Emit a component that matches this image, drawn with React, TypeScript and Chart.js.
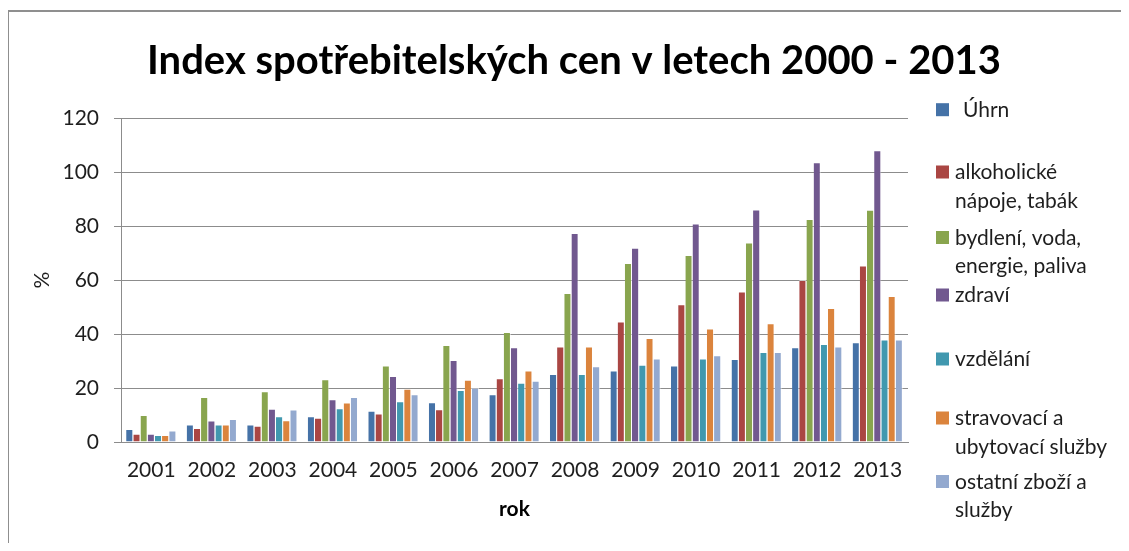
import { useEffect, useRef } from "react";
import { Chart, registerables } from "chart.js";

Chart.register(...registerables);

const years = ["2001", "2002", "2003", "2004", "2005", "2006", "2007", "2008", "2009", "2010", "2011", "2012", "2013"];

const seriesNames = [
  "Úhrn",
  "alkoholické\nnápoje, tabák",
  "bydlení, voda,\nenergie, paliva",
  "zdraví",
  "vzdělání",
  "stravovací a\nubytovací služby",
  "ostatní zboží a\nslužby",
];

const seriesColors = ["#4572A7", "#AA4643", "#89A54E", "#71588F", "#4198AF", "#DB843D", "#93A9CF"];

const uhrn = [4.8, 6.5, 6.5, 9.5, 11.6, 14.7, 17.7, 25.2, 26.5, 28.3, 30.7, 35.1, 36.9];
const alkohol = [3.1, 5.2, 6.0, 9.0, 10.6, 12.1, 23.6, 35.4, 44.6, 51.0, 55.7, 60.0, 65.4];
const bydleni = [10.0, 16.7, 18.8, 23.2, 28.3, 35.9, 40.7, 55.2, 66.3, 69.3, 73.9, 82.6, 86.0];
const zdravi = [3.1, 8.0, 12.3, 15.8, 24.4, 30.4, 35.1, 77.4, 71.9, 80.9, 86.1, 103.6, 108.1];
const vzdelani = [2.6, 6.5, 9.5, 12.5, 15.1, 19.3, 21.9, 25.2, 28.6, 30.9, 33.3, 36.3, 38.0];
const stravovani = [2.6, 6.5, 8.1, 14.6, 19.7, 23.1, 26.5, 35.4, 38.5, 42.0, 44.0, 49.6, 54.1];
const ostatni = [4.3, 8.5, 12.0, 16.7, 17.7, 20.1, 22.7, 28.1, 30.9, 32.1, 33.3, 35.4, 38.0];

const seriesValues = [uhrn, alkohol, bydleni, zdravi, vzdelani, stravovani, ostatni];

const yMin = 0;
const yMax = 120;
const yStep = 20;

const titleText = "Index spotřebitelských cen v letech 2000 - 2013";
const xTitle = "rok";
const yTitle = "%";

const FONT = "Lato, 'Open Sans', sans-serif";
const TEXT = "#1e1e1e";
const GRID = "#8c8c8c";

const sideLegendAndTitle = {
  id: "sideLegendAndTitle",
  afterDraw(chart: any) {
    const ctx = chart.ctx;
    ctx.save();
    // title, centred over the whole chart box
    ctx.font = `bold 40px ${FONT}`;
    ctx.textAlign = "center";
    ctx.textBaseline = "alphabetic";
    ctx.fillStyle = "#000";
    ctx.fillText(titleText, 565, 62);

    // legend on the right
    const baselines = [[104.7], [167, 195.7], [232.5, 261], [290], [354], [413, 441.7], [476.5, 505]];
    ctx.font = `21px ${FONT}`;
    ctx.textAlign = "left";
    chart.data.datasets.forEach((ds: any, i: number) => {
      const lines = String(ds.label).split("\n");
      const ys = baselines[i];
      ctx.fillStyle = ds.backgroundColor;
      ctx.fillRect(927, ys[0] - 13.5, 13, 13);
      ctx.fillStyle = TEXT;
      lines.forEach((t: string, j: number) => {
        ctx.fillText(t, i === 0 ? 954 : 946, ys[j]);
      });
    });
    ctx.restore();
  },
};

export default function App() {
  const canvasRef = useRef<HTMLCanvasElement | null>(null);

  useEffect(() => {
    document.body.style.overflow = "hidden";
    const canvas = canvasRef.current;
    if (!canvas) return;
    const chart = new Chart(canvas, {
      type: "bar",
      data: {
        labels: years,
        datasets: seriesNames.map((name, i) => ({
          label: name,
          data: seriesValues[i],
          backgroundColor: seriesColors[i],
          borderColor: "rgba(255,255,255,0.55)",
          borderWidth: { top: 1, right: 1, left: 0, bottom: 0 },
          categoryPercentage: 0.83,
          barPercentage: 1.0,
        })),
      },
      options: {
        animation: false,
        responsive: true,
        maintainAspectRatio: false,
        layout: { padding: { left: 0, right: 218, top: 106, bottom: 0 } },
        plugins: {
          legend: { display: false },
          tooltip: { enabled: false },
          title: { display: false },
        },
        scales: {
          x: {
            grid: { display: false, drawTicks: false },
            border: { display: true, color: GRID, width: 1 },
            ticks: {
              color: TEXT,
              font: { family: FONT, size: 21 },
              padding: 16,
              autoSkip: false,
              maxRotation: 0,
            },
            title: {
              display: true,
              text: xTitle,
              color: "#000",
              font: { family: FONT, size: 21, weight: "bold" },
              padding: { top: 0, bottom: 21 },
            },
            afterFit(scale: any) {
              scale.height = 101;
            },
          },
          y: {
            min: yMin,
            max: yMax,
            grid: { color: GRID, lineWidth: 1, tickLength: 7, drawTicks: true },
            border: { display: true, color: GRID, width: 1 },
            ticks: {
              stepSize: yStep,
              color: TEXT,
              font: { family: FONT, size: 21 },
              padding: 15,
            },
            title: {
              display: true,
              text: yTitle,
              color: TEXT,
              font: { family: FONT, size: 21 },
              padding: { top: 21, bottom: 0 },
            },
            afterFit(scale: any) {
              scale.width = 112;
            },
          },
        },
      },
      plugins: [sideLegendAndTitle],
    });
    return () => chart.destroy();
  }, []);

  return (
    <div
      style={{
        position: "relative",
        marginTop: 2,
        marginLeft: -1,
        borderTop: "2px solid #8f8f8f",
        borderLeft: "2px solid #8f8f8f",
        width: 1117,
        height: 531,
      }}
    >
      <canvas ref={canvasRef} />
    </div>
  );
}
